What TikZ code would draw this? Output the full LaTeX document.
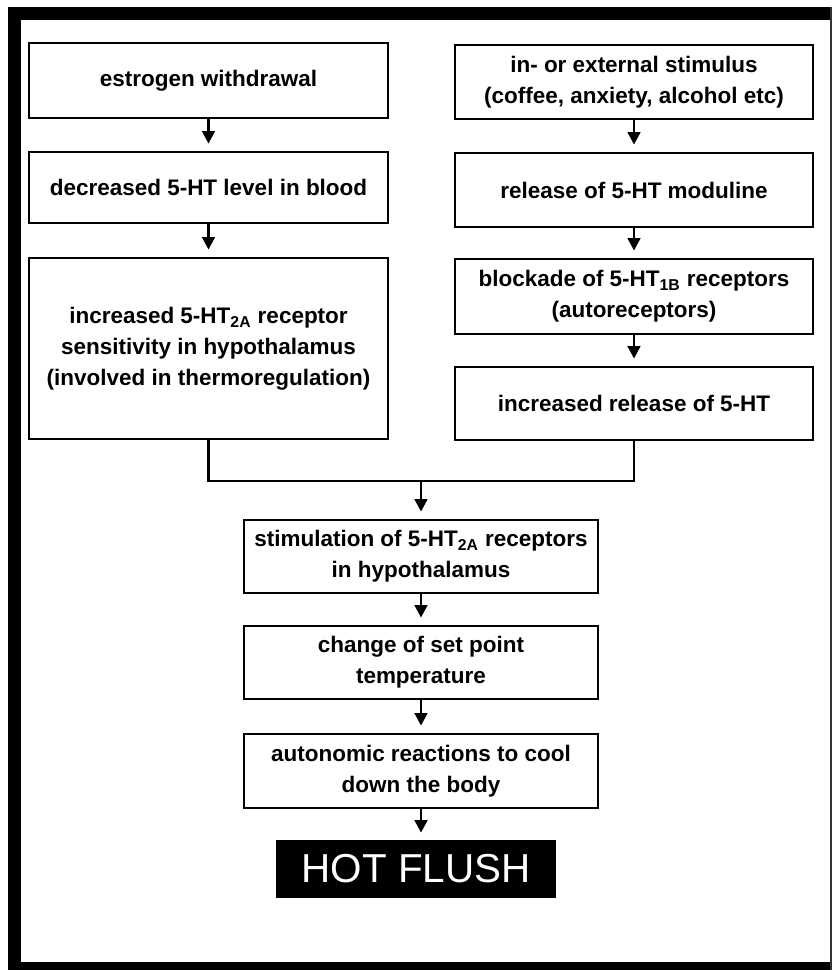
\documentclass[tikz,border=0pt]{standalone}
\usepackage{fontspec}
\setmainfont{Liberation Sans}
\usetikzlibrary{arrows.meta, positioning, calc}

\begin{document}
\begin{tikzpicture}[
  x=0.02cm, y=-0.02cm,
  stepbox/.style={draw, line width=1.6pt, align=center, inner sep=2pt,
    font=\fontsize{12.8}{17.5}\selectfont\bfseries},
  wide/.style={stepbox, minimum width=7.18cm},
  mid/.style={stepbox, minimum width=7.08cm, minimum height=1.46cm},
  flow/.style={line width=1.6pt, -{Triangle[length=2.5mm, width=2.5mm]}, shorten >=1.4mm},
  link/.style={line width=1.6pt},
]
\useasboundingbox (0,0) rectangle (832,970);

% Frame
\fill (8,7) rectangle (832,20);
\fill (8,7) rectangle (21,970);
\fill (8,962) rectangle (832,970);
\draw[line width=0.6pt, black!80] (831,7) -- (831,970);

% Left column
\node[wide, minimum height=1.5cm] (estro) at (208.5,80.5) {estrogen withdrawal};
\node[wide, minimum height=1.42cm] (decr) at (208.5,187.5) {decreased 5-HT level in blood};
\node[wide, minimum height=3.62cm] (sens) at (208.5,348.5)
  {increased 5-HT\textsubscript{2A} receptor\\ sensitivity in hypothalamus\\ (involved in thermoregulation)};

% Right column
\node[wide, minimum width=7.16cm, minimum height=1.48cm] (stimul) at (634,82)
  {in- or external stimulus\\ (coffee, anxiety, alcohol etc)};
\node[wide, minimum width=7.16cm, minimum height=1.48cm] (modul) at (634,190) {release of 5-HT moduline};
\node[wide, minimum width=7.16cm, minimum height=1.5cm] (block) at (634,296.5)
  {blockade of 5-HT\textsubscript{1B} receptors\\ (autoreceptors)};
\node[wide, minimum width=7.16cm, minimum height=1.46cm] (increl) at (634,403.5) {increased release of 5-HT};

% Common path
\node[mid] (stim) at (421,556.5) {stimulation of 5-HT\textsubscript{2A} receptors\\ in hypothalamus};
\node[mid] (setpt) at (421,662.5) {change of set point\\ temperature};
\node[mid, minimum height=1.48cm] (auton) at (421,771) {autonomic reactions to cool\\ down the body};
\node[fill=black, text=white, minimum width=5.6cm, minimum height=1.16cm,
  font=\fontsize{23}{26}\selectfont] (flush) at (416,869) {HOT FLUSH};

% Arrows
\draw[flow] (estro) -- (decr);
\draw[flow] (decr) -- (sens);
\draw[flow] (stimul) -- (modul);
\draw[flow] (modul) -- (block);
\draw[flow] (block) -- (increl);
\coordinate (merge) at (421,481);
\draw[link] (sens.south) |- (merge) -| (increl.south);
\draw[flow] (merge) -- (stim.north);
\draw[flow] (stim) -- (setpt);
\draw[flow] (setpt) -- (auton);
\draw[flow] (auton.south) -- (auton.south |- flush.north);
\end{tikzpicture}
\end{document}
